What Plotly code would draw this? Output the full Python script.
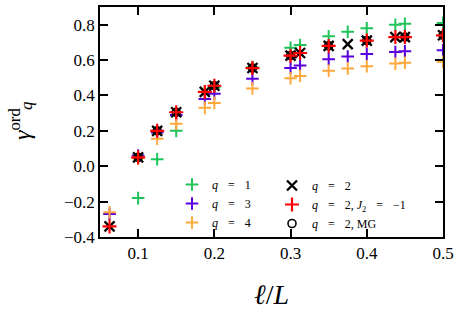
import plotly.graph_objects as go

# ---- data ----
x_vals = [0.0625, 0.1, 0.125, 0.15, 0.1875, 0.2, 0.25, 0.3, 0.3125, 0.35, 0.375, 0.4, 0.4375, 0.45, 0.5]
q1_vals = [None, -0.18, 0.04, 0.20, 0.42, 0.445, 0.56, 0.67, 0.685, 0.735, 0.76, 0.78, 0.80, 0.805, 0.81]
q2_vals = [-0.34, 0.05, 0.20, 0.305, 0.42, 0.455, 0.555, 0.625, 0.64, 0.68, 0.69, 0.71, 0.73, 0.73, 0.74]
q3_vals = [-0.27, 0.06, 0.19, 0.29, 0.38, 0.41, 0.495, 0.555, 0.57, 0.605, 0.62, 0.635, 0.645, 0.65, 0.655]
q4_vals = [-0.26, 0.045, 0.155, 0.24, 0.33, 0.358, 0.44, 0.497, 0.51, 0.54, 0.553, 0.565, 0.58, 0.585, 0.59]
j2_vals = [-0.34, 0.05, 0.20, 0.305, 0.42, 0.455, 0.555, 0.625, 0.64, 0.68, None, 0.71, 0.73, 0.73, 0.74]
mg_x = [0.1, 0.125, 0.15, 0.2, 0.25, 0.3, 0.35, 0.4, 0.45, 0.5]
mg_vals = [0.05, 0.20, 0.305, 0.455, 0.555, 0.625, 0.68, 0.71, 0.73, 0.74]

x_ticks = [0.1, 0.2, 0.3, 0.4, 0.5]
y_ticks = [-0.4, -0.2, 0.0, 0.2, 0.4, 0.6, 0.8]

GREEN = "#1fc35a"
PURPLE = "#5a00dc"
ORANGE = "#ffa83c"
RED = "#ff0000"
FONT = "Liberation Serif"
SP = "\u2002\u2004"

fig = go.Figure()

def plus(x, y, color, name, rank, leg, size=9, width=2.0):
    return go.Scatter(x=x, y=y, mode="markers", name=name, legendrank=rank, legend=leg,
                      marker=dict(symbol="cross-thin-open", size=size, color=color,
                                  line=dict(color=color, width=width)))

fig.add_trace(plus(x_vals, q1_vals, GREEN, f"<i>q</i>{SP}={SP}1", 1, "legend"))
fig.add_trace(plus(x_vals, q3_vals, PURPLE, f"<i>q</i>{SP}={SP}3", 2, "legend"))
fig.add_trace(plus(x_vals, q4_vals, ORANGE, f"<i>q</i>{SP}={SP}4", 3, "legend"))
fig.add_trace(go.Scatter(x=x_vals, y=q2_vals, mode="markers", name=f"<i>q</i>{SP}={SP}2",
                         legendrank=1, legend="legend2",
                         marker=dict(symbol="x-thin-open", size=10, color="black",
                                     line=dict(color="black", width=2.3))))
fig.add_trace(go.Scatter(x=mg_x, y=mg_vals, mode="markers", name=f"<i>q</i>{SP}={SP}2, MG",
                         legendrank=3, legend="legend2",
                         marker=dict(symbol="circle-open", size=8, color="black",
                                     line=dict(color="black", width=1.6))))
fig.add_trace(plus(x_vals, j2_vals, RED, f"<i>q</i>{SP}={SP}2, <i>J</i><sub>2</sub>{SP}={SP}−1", 2,
                   "legend2", size=10, width=2.2))

axis_common = dict(showline=True, linecolor="black", linewidth=1.5, mirror="ticks",
                   ticks="inside", ticklen=8, tickwidth=1.5, tickcolor="black",
                   showgrid=False, zeroline=False, automargin=False,
                   tickfont=dict(family=FONT, size=17, color="black"))

fig.update_xaxes(range=[0.05, 0.5], tickvals=x_ticks, tickformat=".1f",
                 title=dict(text="<i>ℓ</i>/<i>L</i>", font=dict(family=FONT, size=28, color="black"), standoff=22),
                 **axis_common)
fig.update_yaxes(range=[-0.4, 0.9], tickvals=y_ticks, tickformat=".1f", **axis_common)

PW, PH, PT, PL = 343.0, 230.0, 7.0, 100.0
def px(xp):
    return (xp - PL) / PW
def py(yp):
    return (PT + PH - yp) / PH

fig.add_annotation(xref="paper", yref="paper", x=px(20), y=py(124),
                   text="<i>γ</i><sup>ord</sup>", textangle=-90, showarrow=False,
                   font=dict(family=FONT, size=24, color="black"), xanchor="center", yanchor="middle")
fig.add_annotation(xref="paper", yref="paper", x=px(27), y=py(106),
                   text="<i>q</i>", textangle=-90, showarrow=False,
                   font=dict(family=FONT, size=17, color="black"), xanchor="center", yanchor="middle")

leg_common = dict(orientation="v", xanchor="left", yanchor="top",
                  bgcolor="rgba(0,0,0,0)", font=dict(family=FONT, size=12, color="black"),
                  tracegroupgap=0, itemsizing="trace")

fig.update_layout(
    width=457, height=312,
    margin=dict(l=100, r=14, t=7, b=75),
    plot_bgcolor="white", paper_bgcolor="white",
    showlegend=True,
    legend=dict(x=px(172), y=py(170), **leg_common),
    legend2=dict(x=px(272), y=py(171), **leg_common),
)

fig.write_html("out.html", config={"displayModeBar": False},
               post_script="document.body.style.margin='0';document.body.style.overflow='hidden';")
